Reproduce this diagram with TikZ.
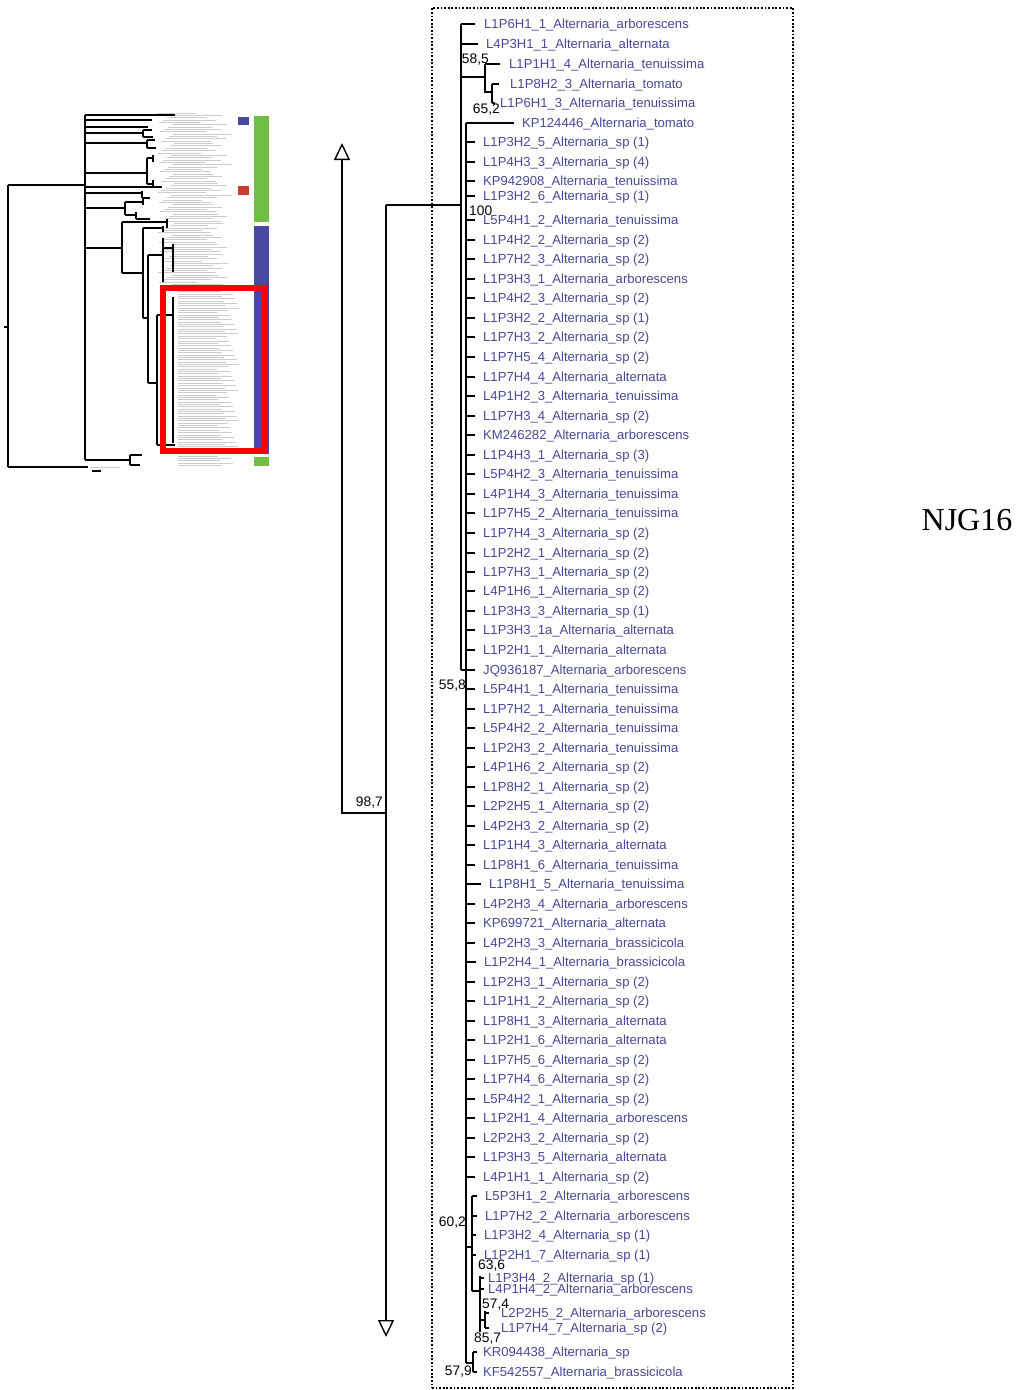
\documentclass[tikz,border=0pt]{standalone}
\usepackage{fontspec}
\setmainfont{Liberation Sans}
\newfontfamily\njgfont{Liberation Serif}
\usetikzlibrary{arrows.meta}
\definecolor{leafc}{RGB}{72,72,150}
\definecolor{thgreen}{RGB}{112,190,68}
\definecolor{thblue}{RGB}{72,72,158}
\definecolor{thred}{RGB}{205,60,50}
\newcommand\alnm{\_Alternaria\_}
\begin{document}
\begin{tikzpicture}[x=1pt,y=-1pt,
  br/.style={line width=1.4pt},
  leaf/.style={anchor=west,inner sep=0pt,text=leafc,font=\fontsize{13.1}{15}\selectfont,text height=11pt,text depth=2pt},
  lab/.style={inner sep=0pt,font=\fontsize{13.8}{15}\selectfont,text height=9.9pt,text depth=0pt},
  thl/.style={line width=1.5pt},
  tht/.style={line width=0.9pt,draw=gray!40},
  >={Triangle[open,length=17pt,width=16pt]}]
\useasboundingbox (0,0) rectangle (1016,1390);

% ---------------- thumbnail ----------------
\foreach \i in {0,...,150} {
  \pgfmathsetmacro\yy{113+2.35*\i}
  \pgfmathsetmacro\xs{\yy<290 ? 158+mod(\i*13,17) : 178}
  \pgfmathsetmacro\ll{38+mod(\i*37,24)}
  \draw[tht] (\xs,\yy) -- ++(\ll,0);
}
\draw[tht] (90,467) -- (120,467);
\fill[thgreen] (254,116) rectangle (269,222);
\fill[thblue] (254,226) rectangle (269,454);
\fill[thgreen] (254,457) rectangle (269,466);
\fill[thblue] (238,117) rectangle (249,125);
\fill[thred] (238,186) rectangle (249,195);
\draw[thl] (4,327) -- (8,327);
\draw[thl] (8,185) -- (8,467);
\draw[thl] (8,185) -- (85,185);
\draw[thl] (8,467) -- (88,467);
\draw[thl] (85,115) -- (85,460);
\draw[thl] (85,115) -- (175,115);
\draw[thl] (85,120) -- (152,120);
\draw[thl] (85,127) -- (148,127);
\draw[thl] (85,133) -- (143,133) (143,130) -- (143,137) (143,130) -- (152,130) (143,137) -- (153,137);
\draw[thl] (85,143) -- (147,143) (147,140) -- (147,148) (147,140) -- (155,140) (147,148) -- (156,148);
\draw[thl] (85,173) -- (147,173) (147,158) -- (147,184) (147,158) -- (153,158) (153,155) -- (153,162) (147,184) -- (153,184) (153,180) -- (153,188);
\draw[thl] (85,187) -- (162,187);
\draw[thl] (85,193) -- (142,193) (142,191) -- (142,198) (142,198) -- (150,198);
\draw[thl] (85,208) -- (125,208) (125,202) -- (125,215) (125,202) -- (143,202) (143,197) -- (143,205) (125,215) -- (136,215) (136,212) -- (136,219) (136,219) -- (150,219);
\draw[thl] (85,248) -- (122,248) (122,222) -- (122,273) (122,222) -- (167,222) (167,219) -- (167,228);
\draw[thl] (122,273) -- (143,273) (143,228) -- (143,318) (143,228) -- (163,228) (163,226) -- (163,232);
\draw[thl] (143,318) -- (148,318) (148,255) -- (148,383) (148,255) -- (163,255) (163,238) -- (163,282) (163,248) -- (173,248) (173,244) -- (173,272);
\draw[thl] (148,383) -- (157,383) (157,315) -- (157,445) (157,315) -- (173,315) (173,297) -- (173,443) (157,445) -- (175,445);
\draw[thl] (85,460) -- (130,460) (130,455) -- (130,465) (130,455) -- (142,455) (130,465) -- (140,465);
\draw[line width=1.2pt] (92,471) -- (101,471);
\draw[red, line width=5.5pt] (163,288) rectangle (265,451);

% ---------------- main tree ----------------
\node[draw, line width=1.8pt, dash pattern=on 1.8pt off 1.8pt, minimum width=361pt, minimum height=1380pt, inner sep=0pt] (frame) at (612.5,698) {};

\coordinate (up) at (342,143);
\coordinate (n987a) at (342,813);
\coordinate (n987) at (386,813);
\coordinate (down) at (386,1337);
\coordinate (r) at (386,205);
\coordinate (n100) at (461,205);
\coordinate (aTop) at (461,24);
\coordinate (aBot) at (461,670);
\coordinate (bTop) at (466,123);
\coordinate (bBot) at (466,1363);

\draw[br,<-] (up) -- (n987a) -- (n987);
\draw[br,->] (r) -- (down);
\draw[br] (r) -- (n100);
\draw[br] (aTop) -- (aBot);
\draw[br] (bTop) -- (bBot);
\node[lab, anchor=east] (l987) at (383,802) {98,7};
\node[lab, anchor=west] (l100) at (469,211) {100};
\node[lab, anchor=east] (l558) at (466,685) {55,8};

% top leaves on A
\node[leaf] (tA1) at (484,24) {L1P6H1\_1\alnm arborescens};
\node[leaf] (tA2) at (486,44) {L4P3H1\_1\alnm alternata};
\node[leaf] (tA3) at (483,670) {JQ936187\alnm arborescens};
\draw[br] (aTop) -- ([xshift=-9pt]tA1.west);
\draw[br] (461,44) -- ([xshift=-8pt]tA2.west);
\draw[br] (aBot) -- ([xshift=-8pt]tA3.west);

% 58,5 clade
\coordinate (n585) at (485,77);
\coordinate (n652) at (492,92);
\draw[br] (461,77) -- (n585);
\draw[br] (485,64) -- (485,92) -- (n652);
\draw[br] (492,84) -- (492,103);
\node[leaf] (t585a) at (509,64) {L1P1H1\_4\alnm tenuissima};
\node[leaf] (t652a) at (510,84) {L1P8H2\_3\alnm tomato};
\node[leaf] (t652b) at (500,103) {L1P6H1\_3\alnm tenuissima};
\draw[br] (485,64) -- ([xshift=-9pt]t585a.west);
\draw[br] (492,84) -- ([xshift=-11pt]t652a.west);
\draw[br] (492,103) -- ([xshift=-5pt]t652b.west);
\node[lab, anchor=east] (l585) at (489,59) {58,5};
\node[lab, anchor=east] (l652) at (500,109) {65,2};

% KP124446
\node[leaf] (tKP) at (522,123) {KP124446\alnm tomato};
\draw[br] (bTop) -- ([xshift=-8pt]tKP.west);

% comb leaves on B
\foreach \y/\x/\t [count=\i] in {
 142/483/{L1P3H2\_5\alnm sp (1)},
 162/483/{L1P4H3\_3\alnm sp (4)},
 181/483/{KP942908\alnm tenuissima},
 196/483/{L1P3H2\_6\alnm sp (1)},
 220/483/{L5P4H1\_2\alnm tenuissima},
 240/483/{L1P4H2\_2\alnm sp (2)},
 259/483/{L1P7H2\_3\alnm sp (2)},
 279/483/{L1P3H3\_1\alnm arborescens},
 298/483/{L1P4H2\_3\alnm sp (2)},
 318/483/{L1P3H2\_2\alnm sp (1)},
 337/483/{L1P7H3\_2\alnm sp (2)},
 357/483/{L1P7H5\_4\alnm sp (2)},
 377/483/{L1P7H4\_4\alnm alternata},
 396/483/{L4P1H2\_3\alnm tenuissima},
 416/483/{L1P7H3\_4\alnm sp (2)},
 435/483/{KM246282\alnm arborescens},
 455/483/{L1P4H3\_1\alnm sp (3)},
 474/483/{L5P4H2\_3\alnm tenuissima},
 494/483/{L4P1H4\_3\alnm tenuissima},
 513/483/{L1P7H5\_2\alnm tenuissima},
 533/483/{L1P7H4\_3\alnm sp (2)},
 553/483/{L1P2H2\_1\alnm sp (2)},
 572/483/{L1P7H3\_1\alnm sp (2)},
 591/483/{L4P1H6\_1\alnm sp (2)},
 611/483/{L1P3H3\_3\alnm sp (1)},
 630/483/{L1P3H3\_1a\alnm alternata},
 650/483/{L1P2H1\_1\alnm alternata},
 689/483/{L5P4H1\_1\alnm tenuissima},
 709/483/{L1P7H2\_1\alnm tenuissima},
 728/483/{L5P4H2\_2\alnm tenuissima},
 748/483/{L1P2H3\_2\alnm tenuissima},
 767/483/{L4P1H6\_2\alnm sp (2)},
 787/483/{L1P8H2\_1\alnm sp (2)},
 806/483/{L2P2H5\_1\alnm sp (2)},
 826/483/{L4P2H3\_2\alnm sp (2)},
 845/483/{L1P1H4\_3\alnm alternata},
 865/483/{L1P8H1\_6\alnm tenuissima},
 884/489/{L1P8H1\_5\alnm tenuissima},
 904/483/{L4P2H3\_4\alnm arborescens},
 923/483/{KP699721\alnm alternata},
 943/483/{L4P2H3\_3\alnm brassicicola},
 962/484/{L1P2H4\_1\alnm brassicicola},
 982/483/{L1P2H3\_1\alnm sp (2)},
 1001/483/{L1P1H1\_2\alnm sp (2)},
 1021/483/{L1P8H1\_3\alnm alternata},
 1040/483/{L1P2H1\_6\alnm alternata},
 1060/483/{L1P7H5\_6\alnm sp (2)},
 1079/483/{L1P7H4\_6\alnm sp (2)},
 1099/483/{L5P4H2\_1\alnm sp (2)},
 1118/483/{L1P2H1\_4\alnm arborescens},
 1138/483/{L2P2H3\_2\alnm sp (2)},
 1157/483/{L1P3H3\_5\alnm alternata},
 1177/483/{L4P1H1\_1\alnm sp (2)}} {
  \coordinate (b\i) at (466,\y);
  \node[leaf] (t\i) at (\x,\y) {\t};
  \draw[br] (b\i) -- ([xshift=-8pt]t\i.west);
}

% 60,2 clade
\coordinate (n602) at (472,1247);
\draw[br] (466,1247) -- (n602);
\draw[br] (472,1196) -- (472,1291);
\foreach \y/\x/\t [count=\i] in {
 1196/485/{L5P3H1\_2\alnm arborescens},
 1216/485/{L1P7H2\_2\alnm arborescens},
 1235/484/{L1P3H2\_4\alnm sp (1)},
 1255/484/{L1P2H1\_7\alnm sp (1)}} {
  \coordinate (c\i) at (472,\y);
  \node[leaf] (u\i) at (\x,\y) {\t};
  \draw[br] (c\i) -- ([xshift=-8pt]u\i.west);
}
\node[lab, anchor=east] (l602) at (466,1222) {60,2};

% 63,6 clade
\coordinate (n636) at (480,1291);
\draw[br] (472,1291) -- (n636);
\draw[br] (480,1276) -- (480,1332);
\node[leaf] (v1) at (488,1278) {L1P3H4\_2\alnm sp (1)};
\node[leaf] (v2) at (488,1289) {L4P1H4\_2\alnm arborescens};
\draw[br] (480,1278) -- ([xshift=-4pt]v1.west);
\draw[br] (480,1289) -- ([xshift=-4pt]v2.west);
\node[lab, anchor=west] (l636) at (478,1265) {63,6};

% 57,4 / 85,7 clade
\coordinate (n574) at (485,1320);
\draw[br] (480,1320) -- (n574);
\draw[br] (485,1311) -- (485,1328);
\node[leaf] (w1) at (501,1313) {L2P2H5\_2\alnm arborescens};
\node[leaf] (w2) at (501,1328) {L1P7H4\_7\alnm sp (2)};
\draw[br] (485,1313) -- (489,1313);
\draw[br] (485,1328) -- (489,1328);
\node[lab, anchor=west] (l574) at (482,1304) {57,4};
\node[lab, anchor=west] (l857) at (474,1338) {85,7};

% 57,9 clade
\coordinate (n579) at (473,1363);
\draw[br] (bBot) -- (n579);
\draw[br] (473,1352) -- (473,1372);
\node[leaf] (x1) at (483,1352) {KR094438\_Alternaria\_sp};
\node[leaf] (x2) at (483,1372) {KF542557\alnm brassicicola};
\draw[br] (473,1352) -- ([xshift=-6pt]x1.west);
\draw[br] (473,1372) -- ([xshift=-6pt]x2.west);
\node[lab, anchor=east] (l579) at (472,1371) {57,9};

% NJG16
\node[inner sep=0pt, font=\njgfont\fontsize{32}{36}\selectfont] (njg) at (967,520) {NJG16};
\end{tikzpicture}
\end{document}
